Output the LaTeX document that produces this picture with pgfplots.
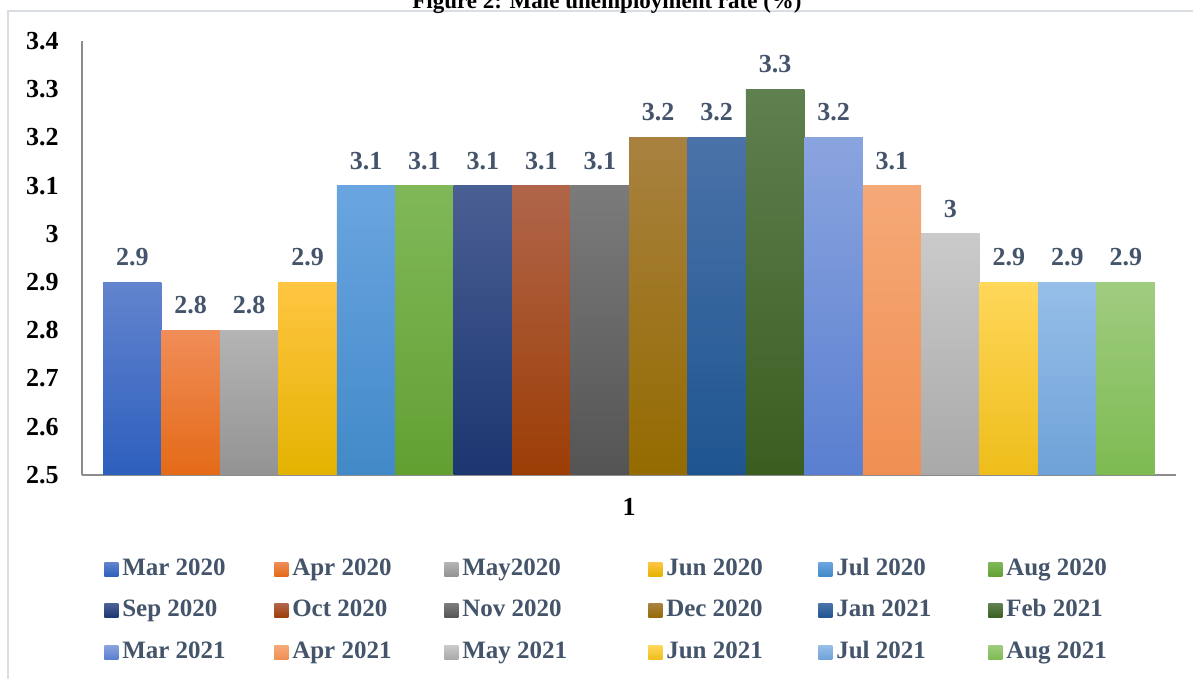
\documentclass[border=0pt]{standalone}
\usepackage{pgfplots}
\pgfplotsset{compat=1.18}
\usepackage{fontspec}
\setmainfont{Liberation Serif}
\definecolor{c1t}{HTML}{6384CE}\definecolor{c1b}{HTML}{2D5FBD}
\definecolor{c2t}{HTML}{F08D58}\definecolor{c2b}{HTML}{E46A17}
\definecolor{c3t}{HTML}{B4B4B4}\definecolor{c3b}{HTML}{939393}
\definecolor{c4t}{HTML}{FFC542}\definecolor{c4b}{HTML}{E3B300}
\definecolor{c5t}{HTML}{6AA5E0}\definecolor{c5b}{HTML}{4289C8}
\definecolor{c6t}{HTML}{80B859}\definecolor{c6b}{HTML}{62A032}
\definecolor{c7t}{HTML}{4A5F94}\definecolor{c7b}{HTML}{1B3670}
\definecolor{c8t}{HTML}{B0654A}\definecolor{c8b}{HTML}{9C3D05}
\definecolor{c9t}{HTML}{7B7B7B}\definecolor{c9b}{HTML}{545454}
\definecolor{c10t}{HTML}{A88140}\definecolor{c10b}{HTML}{946B00}
\definecolor{c11t}{HTML}{4A72A8}\definecolor{c11b}{HTML}{1E5590}
\definecolor{c12t}{HTML}{5F8050}\definecolor{c12b}{HTML}{3A5E20}
\definecolor{c13t}{HTML}{8AA4DE}\definecolor{c13b}{HTML}{5A7FD0}
\definecolor{c14t}{HTML}{F5A978}\definecolor{c14b}{HTML}{F08F52}
\definecolor{c15t}{HTML}{CACACA}\definecolor{c15b}{HTML}{A9A9A9}
\definecolor{c16t}{HTML}{FFD75A}\definecolor{c16b}{HTML}{EEBD1A}
\definecolor{c17t}{HTML}{96BEE8}\definecolor{c17b}{HTML}{6FA2D8}
\definecolor{c18t}{HTML}{A0CC80}\definecolor{c18b}{HTML}{7DBB52}
\definecolor{lbl}{HTML}{44546A}
\definecolor{frame}{HTML}{D9DEE5}
\pgfplotsset{mybar/.style 2 args={bar shift=0pt, draw=none, top color=#1, bottom color=#2}}
\newcommand{\lentry}[1]{\makebox[76pt][l]{#1}}
\newcommand{\lwide}[1]{\makebox[93pt][l]{#1}}
\begin{document}
\begin{tikzpicture}
\useasboundingbox (0,0) rectangle (596.5pt,339.5pt);
\draw[frame, line width=0.8pt] (4pt,0pt) -- (4pt,334pt) -- (600pt,334pt);
\node[font=\bfseries\fontsize{11.5}{13}\selectfont, anchor=base] at (303.5pt,335.25pt) {Figure 2: Male unemployment rate (\%)};
\begin{axis}[
  at={(41pt,102pt)}, anchor=south west,
  scale only axis, width=547pt, height=217pt,
  ybar, bar width=1,
  xmin=-0.86, xmax=17.86, ymin=2.5, ymax=3.4,
  axis lines*=left,
  axis line style={draw=black!45, line width=0.8pt, -},
  xtick={8.5}, xticklabels={1},
  ytick={2.5,2.6,2.7,2.8,2.9,3,3.1,3.2,3.3,3.4},
  yticklabels={2.5,2.6,2.7,2.8,2.9,3,3.1,3.2,3.3,3.4},
  major tick length=0pt,
  tick style={draw=none},
  /pgf/number format/assume math mode=true,
  ticklabel style={font=\bfseries\fontsize{13}{15}\selectfont, text=black},
  xticklabel style={anchor=center, yshift=-16pt},
  yticklabel style={anchor=east, inner sep=0pt, xshift=-11.5pt},
  nodes near coords,
  nodes near coords style={anchor=center, yshift=12.5pt, font=\bfseries\fontsize{13}{15}\selectfont, text=lbl},
  legend image code/.code={\path[#1, draw=none] (0pt,-3.5pt) rectangle (7pt,3.5pt);},
  legend columns=6,
  legend cell align=left,
  legend style={at={(0.0145,-0.182)}, anchor=north west, draw=none, fill=none,
    font=\bfseries\fontsize{12.5}{14}\selectfont, text=lbl,
    nodes={inner sep=0pt, text height=8.5pt, text depth=2.5pt},
    row sep=9.75pt,
    /tikz/every odd column/.append style={column sep=2pt},
    /tikz/every even column/.append style={column sep=0pt}},
  clip=false,
]
\addplot[mybar={c1t}{c1b}] coordinates {(0,2.9)}; \addlegendentry{\lentry{Mar 2020}}
\addplot[mybar={c2t}{c2b}] coordinates {(1,2.8)}; \addlegendentry{\lentry{Apr 2020}}
\addplot[mybar={c3t}{c3b}] coordinates {(2,2.8)}; \addlegendentry{\lwide{May2020}}
\addplot[mybar={c4t}{c4b}] coordinates {(3,2.9)}; \addlegendentry{\lentry{Jun 2020}}
\addplot[mybar={c5t}{c5b}] coordinates {(4,3.1)}; \addlegendentry{\lentry{Jul 2020}}
\addplot[mybar={c6t}{c6b}] coordinates {(5,3.1)}; \addlegendentry{\lentry{Aug 2020}}
\addplot[mybar={c7t}{c7b}] coordinates {(6,3.1)}; \addlegendentry{\lentry{Sep 2020}}
\addplot[mybar={c8t}{c8b}] coordinates {(7,3.1)}; \addlegendentry{\lentry{Oct 2020}}
\addplot[mybar={c9t}{c9b}] coordinates {(8,3.1)}; \addlegendentry{\lwide{Nov 2020}}
\addplot[mybar={c10t}{c10b}] coordinates {(9,3.2)}; \addlegendentry{\lentry{Dec 2020}}
\addplot[mybar={c11t}{c11b}] coordinates {(10,3.2)}; \addlegendentry{\lentry{Jan 2021}}
\addplot[mybar={c12t}{c12b}] coordinates {(11,3.3)}; \addlegendentry{\lentry{Feb 2021}}
\addplot[mybar={c13t}{c13b}] coordinates {(12,3.2)}; \addlegendentry{\lentry{Mar 2021}}
\addplot[mybar={c14t}{c14b}] coordinates {(13,3.1)}; \addlegendentry{\lentry{Apr 2021}}
\addplot[mybar={c15t}{c15b}] coordinates {(14,3.0)}; \addlegendentry{\lwide{May 2021}}
\addplot[mybar={c16t}{c16b}] coordinates {(15,2.9)}; \addlegendentry{\lentry{Jun 2021}}
\addplot[mybar={c17t}{c17b}] coordinates {(16,2.9)}; \addlegendentry{\lentry{Jul 2021}}
\addplot[mybar={c18t}{c18b}] coordinates {(17,2.9)}; \addlegendentry{\lentry{Aug 2021}}
\end{axis}
\end{tikzpicture}
\end{document}
